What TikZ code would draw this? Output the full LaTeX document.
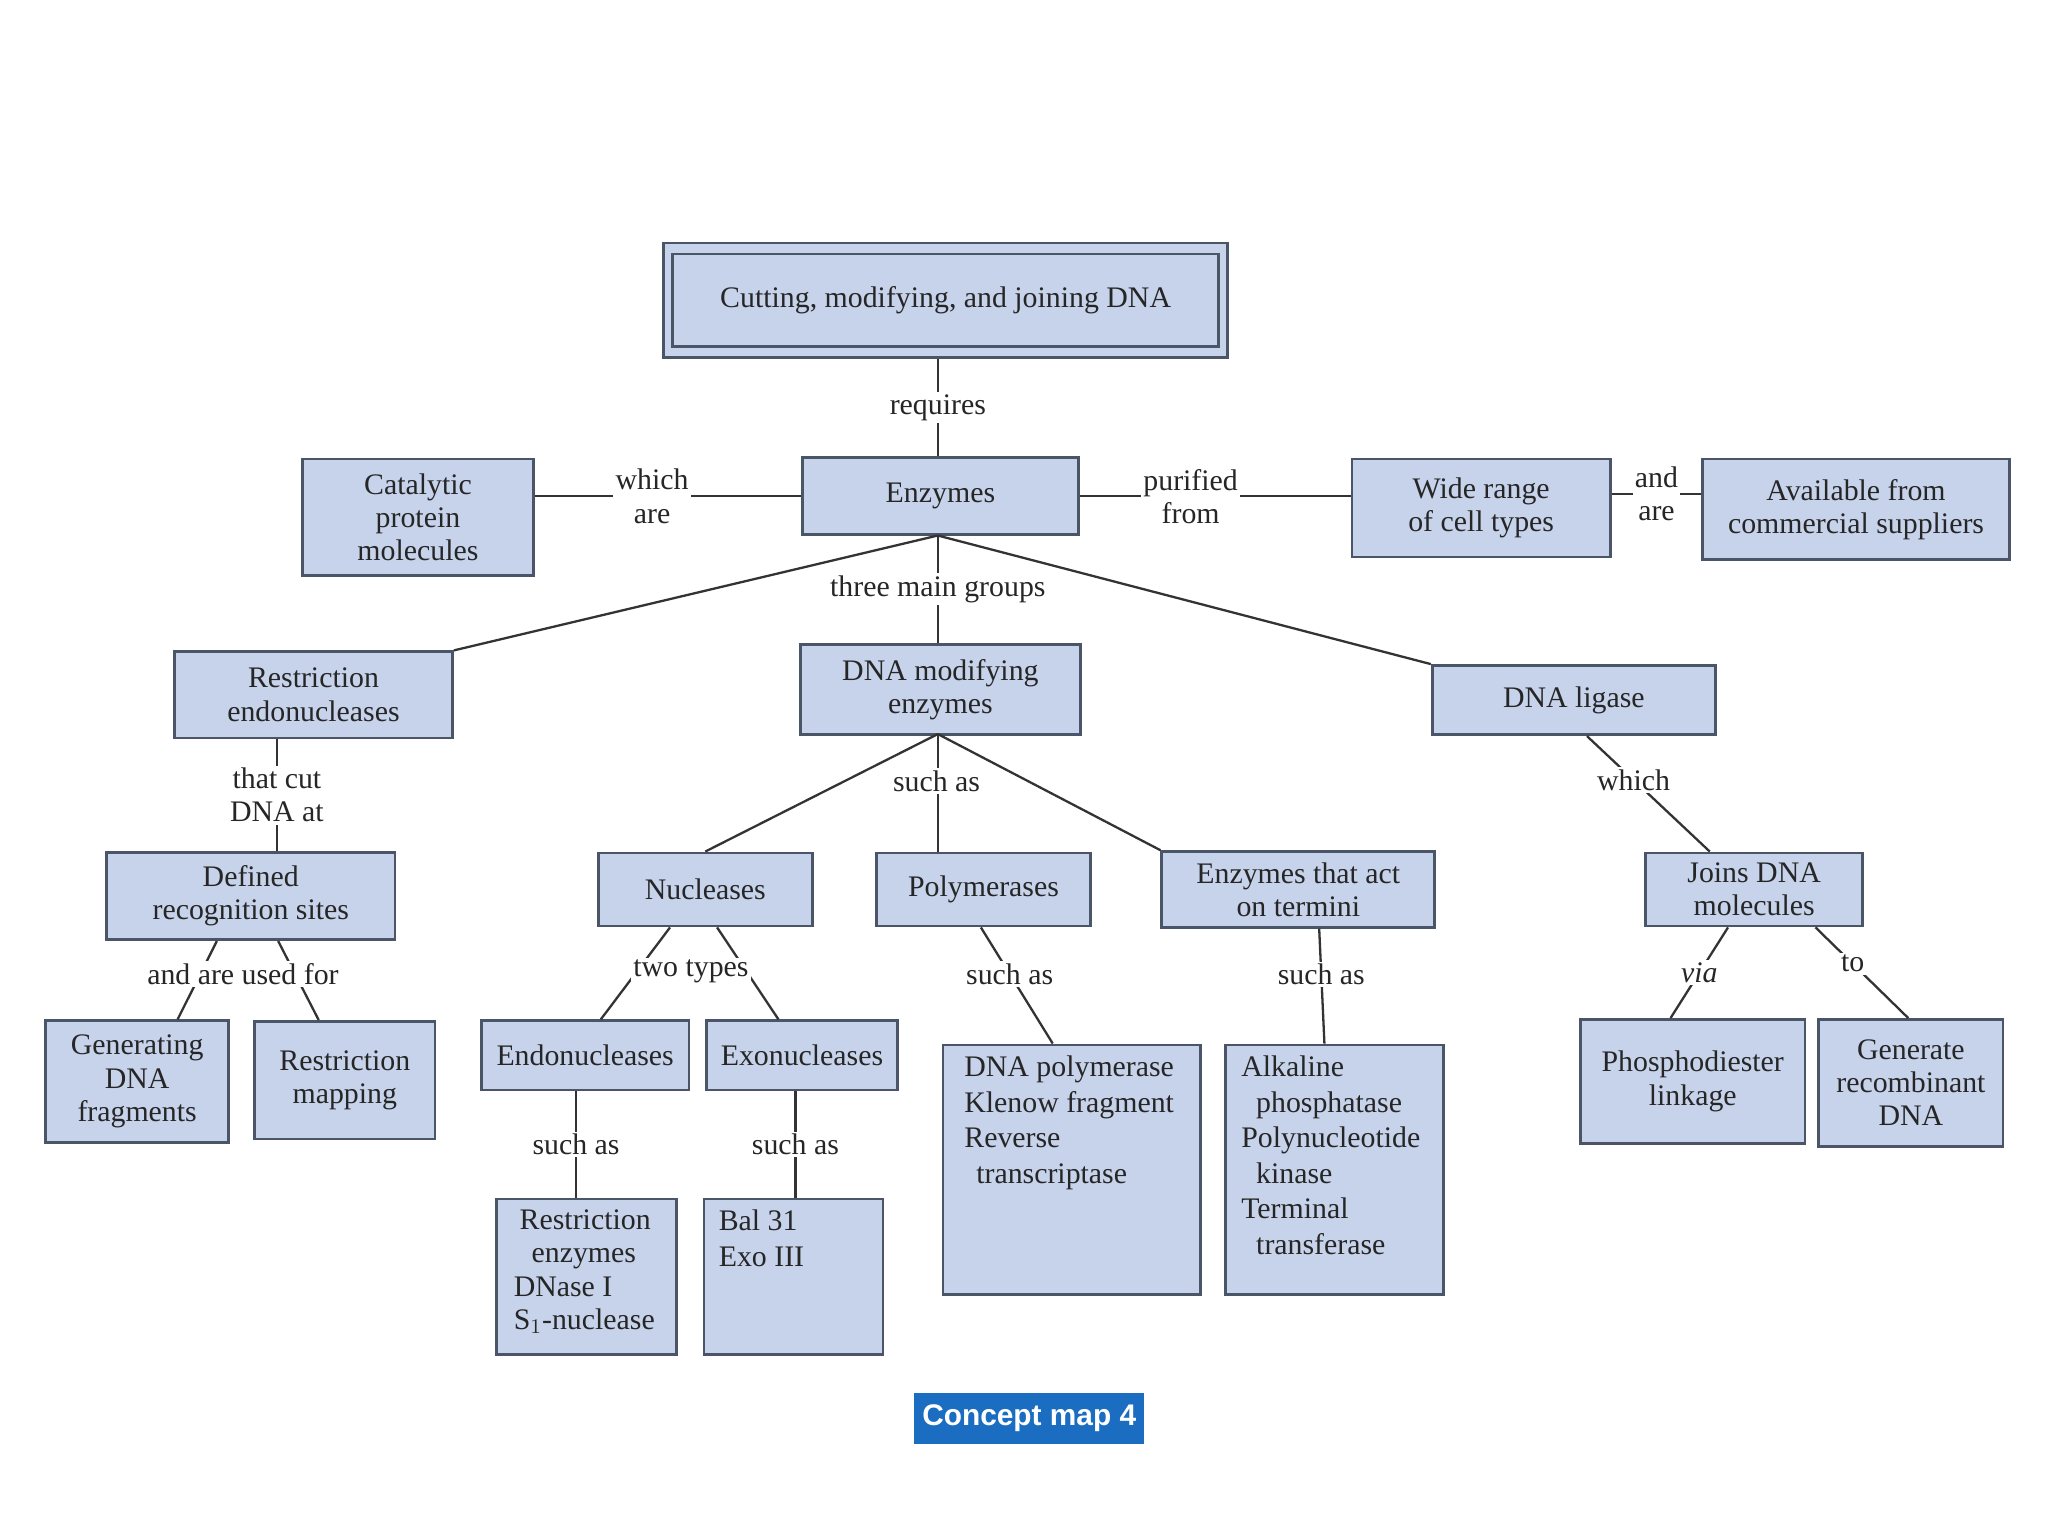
\documentclass[tikz,border=0pt]{standalone}
\usepackage{fontspec}
\setmainfont{Liberation Serif}
\newfontfamily\sansf{Liberation Sans}
\begin{document}
\definecolor{boxfill}{HTML}{C6D3EB}
\definecolor{boxdraw}{HTML}{4A5568}
\definecolor{cmblue}{HTML}{1B6DC1}
\begin{tikzpicture}[x=0.02cm,y=-0.02cm,
  every node/.style={font=\fontsize{13}{14.5}\selectfont, text=black!85},
  box/.style={draw=boxdraw, line width=1.2pt, fill=boxfill, align=center, inner sep=2pt},
  lbl/.style={fill=white, align=center, inner sep=1pt},
  ln/.style={draw=black!80, line width=1pt}]
\useasboundingbox (0,0) rectangle (1568,1176);
% title
\node[box, minimum width=8.64cm, minimum height=1.76cm] (to) at (724,230) {};
\node[box, minimum width=8.36cm, minimum height=1.42cm] (t) at (724,230) {Cutting, modifying, and joining DNA};
\node[box, minimum width=4.22cm, minimum height=1.18cm] (enz) at (720,380) {Enzymes};
\node[box, minimum width=3.54cm, minimum height=1.78cm] (cat) at (320,396) {Catalytic\\protein\\molecules};
\node[box, minimum width=3.96cm, minimum height=1.5cm] (wide) at (1134,389) {Wide range\\of cell types};
\node[box, minimum width=4.7cm, minimum height=1.54cm] (avail) at (1421,390) {Available from\\commercial suppliers};
\node[box, minimum width=4.26cm, minimum height=1.32cm] (re) at (240,532) {Restriction\\endonucleases};
\node[box, minimum width=4.28cm, minimum height=1.38cm] (mod) at (720,528) {DNA modifying\\enzymes};
\node[box, minimum width=4.34cm, minimum height=1.06cm] (lig) at (1205,536) {DNA ligase};
\node[box, minimum width=4.42cm, minimum height=1.34cm] (def) at (192,686) {Defined\\recognition sites};
\node[box, minimum width=3.28cm, minimum height=1.12cm] (nuc) at (540,681) {Nucleases};
\node[box, minimum width=3.28cm, minimum height=1.12cm] (pol) at (753,681) {Polymerases};
\node[box, minimum width=4.18cm, minimum height=1.16cm] (term) at (994,681) {Enzymes that act\\on termini};
\node[box, minimum width=3.32cm, minimum height=1.12cm] (join) at (1343,681) {Joins DNA\\molecules};
\node[box, minimum width=2.8cm, minimum height=1.86cm] (gen) at (105,828) {Generating\\DNA\\fragments};
\node[box, minimum width=2.76cm, minimum height=1.8cm] (map) at (264,827) {Restriction\\mapping};
\node[box, minimum width=3.18cm, minimum height=1.06cm] (endo) at (448,808) {Endonucleases};
\node[box, minimum width=2.92cm, minimum height=1.06cm] (exo) at (614,808) {Exonucleases};
\node[box, minimum width=3.94cm, minimum height=3.82cm] (dpol) at (820.5,895.5) {};
\node[anchor=north west, align=left, inner sep=0pt, font=\fontsize{13}{15.5}\selectfont] at (738,808) {DNA polymerase\\Klenow fragment\\Reverse\\\hspace*{0.4em}transcriptase};
\node[box, minimum width=3.34cm, minimum height=3.82cm] (alk) at (1021.5,895.5) {};
\node[anchor=north west, align=left, inner sep=0pt, font=\fontsize{13}{15.5}\selectfont] at (950,808) {Alkaline\\\hspace*{0.5em}phosphatase\\Polynucleotide\\\hspace*{0.5em}kinase\\Terminal\\\hspace*{0.5em}transferase};
\node[box, minimum width=3.44cm, minimum height=1.9cm] (phos) at (1296,828) {Phosphodiester\\linkage};
\node[box, minimum width=2.82cm, minimum height=1.94cm] (grec) at (1463,829) {Generate\\recombinant\\DNA};
\node[box, minimum width=2.76cm, minimum height=2.38cm] (renz) at (449,977.5) {};
\node[anchor=north west, align=left, inner sep=0pt] at (393,926) {\hspace*{0.2em}Restriction\\\hspace*{0.6em}enzymes\\DNase I\\S$_1$-nuclease};
\node[box, minimum width=2.74cm, minimum height=2.38cm] (bal) at (607.5,977.5) {};
\node[anchor=north west, align=left, inner sep=0pt, font=\fontsize{13}{15.5}\selectfont] at (550,926) {Bal 31\\Exo III};
\node[fill=cmblue, text=white, minimum width=3.52cm, minimum height=0.78cm, font=\sansf\bfseries\fontsize{13}{15}\selectfont] (cm) at (788,1086) {Concept map 4};
% connectors
\draw[ln] (to.south -| 718,0) -- (enz.north -| 718,0) node[lbl, midway] {requires};
\draw[ln] (cat.east |- 0,380) -- (enz.west) node[lbl, pos=0.44] {which\\are};
\draw[ln] (enz.east) -- (wide.west |- enz.east) node[lbl, pos=0.41] {purified\\from};
\draw[ln] (wide.east |- 0,378) -- (avail.west |- 0,378) node[lbl, midway] {and\\are};
\coordinate (eb) at (718,410);
\draw[ln] (eb) -- (re.north east);
\draw[ln] (eb) -- (mod.north -| 718,0) node[lbl, midway] {three main groups};
\draw[ln] (eb) -- (lig.north west);
\draw[ln] (re.south -| 212,0) -- (def.north -| 212,0) node[lbl, midway] {that cut\\DNA at};
\coordinate (mb) at (718,562);
\draw[ln] (mb) -- (nuc.north);
\draw[ln] (mb) -- (pol.north -| 718,0);
\node[lbl] at (717,598) {such as};
\draw[ln] (mb) -- (term.north west);
\draw[ln] (lig.south -| 1215,0) -- (join.north -| 1309,0) node[lbl, pos=0.38] {which};
\draw[ln] (def.south -| 166,0) -- (gen.north -| 136,0);
\draw[ln] (def.south -| 213,0) -- (map.north -| 244,0);
\node[lbl] at (186,746) {and are used for};
\draw[ln] (nuc.south -| 513,0) -- (endo.north -| 460,0);
\draw[ln] (nuc.south -| 549,0) -- (exo.north -| 596,0);
\node[lbl] at (529,744) {two types};
\draw[ln] (pol.south -| 751,0) -- (dpol.north -| 806,0) node[lbl, pos=0.4] {such as};
\draw[ln] (term.south -| 1010,0) -- (alk.north -| 1014,0) node[lbl, pos=0.4] {such as};
\draw[ln] (join.south -| 1323,0) -- (phos.north -| 1279,0) node[lbl, midway, font=\itshape\fontsize{13}{14.5}\selectfont] {via};
\draw[ln] (join.south -| 1390,0) -- (grec.north -| 1461,0) node[lbl, pos=0.4] {to};
\draw[ln] (endo.south -| 441,0) -- (renz.north -| 441,0) node[lbl, midway] {such as};
\draw[ln] (exo.south -| 609,0) -- (bal.north -| 609,0) node[lbl, midway] {such as};
\end{tikzpicture}
\end{document}
